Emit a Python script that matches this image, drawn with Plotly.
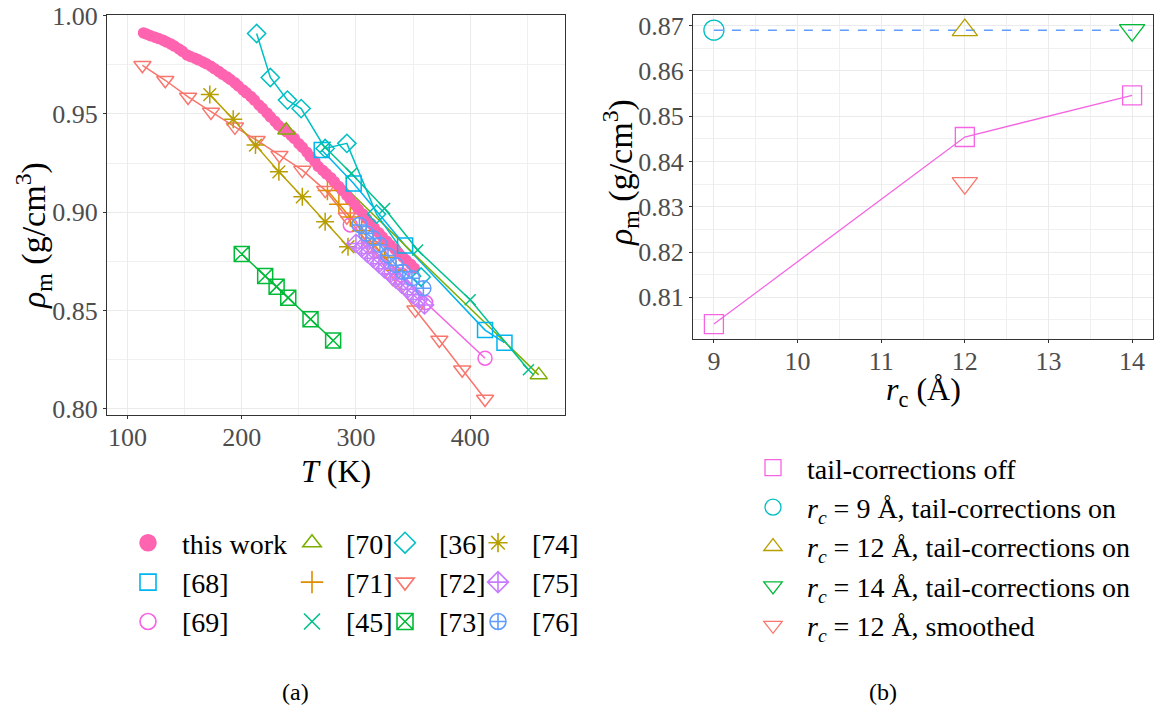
import plotly.graph_objects as go

FONT = "Liberation Serif"
W, H = 1173, 715
OFF = 8  # default page body margin of the browser

# ---------------- data: panel (a) ----------------
T_this = [114, 117, 120, 124, 127, 131, 134, 138, 141, 145, 148, 152, 155, 159, 162, 166, 169, 173,
          176, 180, 183, 187, 190, 194, 197, 201, 204, 208, 211, 215, 218, 222, 225, 229, 232, 236,
          239, 243, 246, 250, 253, 257, 260, 264, 267, 271, 274, 278, 281, 285, 288, 292, 295, 299,
          302, 306, 309, 313, 316, 320, 323, 327, 330, 334, 337, 341, 344, 348, 351]
R_this = [0.9912, 0.9905, 0.9898, 0.9890, 0.9884, 0.9875, 0.9866, 0.9855, 0.9845, 0.9830, 0.9818,
          0.9800, 0.9792, 0.9783, 0.9775, 0.9764, 0.9755, 0.9742, 0.9730, 0.9715, 0.9702, 0.9688,
          0.9675, 0.9658, 0.9642, 0.9622, 0.9607, 0.9588, 0.9570, 0.9545, 0.9528, 0.9505, 0.9485,
          0.9462, 0.9442, 0.9425, 0.9410, 0.9392, 0.9375, 0.9348, 0.9330, 0.9305, 0.9282, 0.9258,
          0.9232, 0.9212, 0.9195, 0.9175, 0.9155, 0.9130, 0.9110, 0.9085, 0.9062, 0.9038, 0.9015,
          0.8990, 0.8968, 0.8942, 0.8920, 0.8895, 0.8875, 0.8852, 0.8832, 0.8812, 0.8792, 0.8772,
          0.8755, 0.8735, 0.8715]

T68 = [270, 298, 343, 413, 430]
R68 = [0.9316, 0.9146, 0.8830, 0.8400, 0.8336]

T69 = [295, 320, 340, 361, 413]
R69 = [0.8935, 0.8800, 0.8680, 0.8540, 0.8257]

T70 = [239, 460]
R70 = [0.9417, 0.8172]

T71 = [275, 285, 295, 305, 315, 325, 335]
R71 = [0.9110, 0.9040, 0.8975, 0.8905, 0.8840, 0.8770, 0.8705]

T45 = [273, 296, 325, 354, 400, 451]
R45 = [0.9330, 0.9197, 0.9019, 0.8807, 0.8554, 0.8198]

T36 = [213, 225, 240, 252, 273, 292, 318, 357]
R36 = [0.9909, 0.9685, 0.9570, 0.9527, 0.9324, 0.9350, 0.8990, 0.8670]

T72 = [113, 133, 153, 173, 194, 213, 233, 253, 273, 292, 312, 332, 352, 373, 393, 413]
R72 = [0.9747, 0.9671, 0.9586, 0.9510, 0.9434, 0.9366, 0.9290, 0.9214, 0.9112, 0.8977,
       0.8830, 0.8665, 0.8503, 0.8350, 0.8198, 0.8049]

T73 = [200, 220.5, 230.5, 240.7, 260.2, 280]
R73 = [0.8787, 0.8675, 0.8621, 0.8565, 0.8455, 0.8347]

T74 = [172, 192.5, 212, 232.5, 253, 273, 293]
R74 = [0.9598, 0.9473, 0.9341, 0.9205, 0.9078, 0.8951, 0.8824]

T75 = [300, 305, 310, 315, 320, 325, 330, 335, 340, 345, 350, 355, 360]
R75 = [0.8841, 0.8818, 0.8790, 0.8765, 0.8738, 0.8712, 0.8687, 0.8660, 0.8634, 0.8608,
       0.8580, 0.8556, 0.8528]

T76 = [303, 309, 315, 321, 328, 335, 341, 349, 359]
R76 = [0.8935, 0.8892, 0.8867, 0.8833, 0.8780, 0.8730, 0.8697, 0.8664, 0.8613]

# ---------------- data: panel (b) ----------------
RC_OFF = [9, 12, 14]
RHO_OFF = [0.8041, 0.8454, 0.8546]
RC_9 = [9]
RHO_9 = [0.8690]
RC_12 = [12]
RHO_12 = [0.8690]
RC_14 = [14]
RHO_14 = [0.8690]
RC_12S = [12]
RHO_12S = [0.8352]
RC_REF = [9, 14]
RHO_REF = [0.8690, 0.8690]

X_TICKS_A = [100, 200, 300, 400]
Y_TICKS_A = [0.80, 0.85, 0.90, 0.95, 1.00]
X_TICKS_B = [9, 10, 11, 12, 13, 14]
Y_TICKS_B = [0.81, 0.82, 0.83, 0.84, 0.85, 0.86, 0.87]

fig = go.Figure()


def px_x(p):
    return (p - OFF) / W


def px_y(p):
    return 1 - (p - OFF) / H


SP = "&nbsp;&nbsp;"

series_a = [
    # name, T, R, color, symbol, size, lines, legend, rank
    ("this work", T_this, R_this, "#FF64B0", "circle", 10, False, "legend", 1),
    ("[68]", T68, R68, "#00B4F0", "square-open", 15, True, "legend", 2),
    ("[69]", T69, R69, "#F564E3", "circle-open", 14, True, "legend", 3),
    ("[70]", T70, R70, "#7CAE00", "triangle-up-open", 15, True, "legend2", 1),
    ("[71]", T71, R71, "#DE8C00", "cross-thin-open", 14, True, "legend2", 2),
    ("[45]", T45, R45, "#00C08B", "x-thin-open", 11, True, "legend2", 3),
    ("[36]", T36, R36, "#00BFC4", "diamond-open", 14, True, "legend3", 1),
    ("[72]", T72, R72, "#F8766D", "triangle-down-open", 15, True, "legend3", 2),
    ("[73]", T73, R73, "#00BA38", "square-x-open", 15, True, "legend3", 3),
    ("[74]", T74, R74, "#B79F00", "asterisk-open", 15, True, "legend4", 1),
    ("[75]", T75, R75, "#C77CFF", "diamond-cross-open", 14, True, "legend4", 2),
    ("[76]", T76, R76, "#619CFF", "circle-cross-open", 15, True, "legend4", 3),
]

# lines first (no legend entry), then markers
for name, tx, ry, col, sym, sz, lines, leg, rank in series_a:
    if lines:
        fig.add_trace(go.Scatter(x=tx, y=ry, mode="lines", showlegend=False, hoverinfo="skip",
                                 line=dict(color=col, width=1.5), xaxis="x", yaxis="y"))
for name, tx, ry, col, sym, sz, lines, leg, rank in series_a:
    fig.add_trace(go.Scatter(
        x=tx, y=ry, name=name, mode="markers", showlegend=False,
        marker=dict(color=col, symbol=sym, size=sz, line=dict(color=col, width=1.5)),
        xaxis="x", yaxis="y",
    ))
# legend keys (bigger symbols, as in the reference legend)
for name, tx, ry, col, sym, sz, lines, leg, rank in series_a:
    fig.add_trace(go.Scatter(
        x=[None], y=[None], name=SP + name, mode="markers",
        marker=dict(color=col, symbol=sym, size=16, line=dict(color=col, width=1.6)),
        xaxis="x", yaxis="y", legend=leg, legendrank=rank,
    ))

# panel (b)
fig.add_trace(go.Scatter(x=RC_REF, y=RHO_REF, mode="lines", showlegend=False,
                         line=dict(color="#619CFF", width=1.5, dash="dash"),
                         xaxis="x2", yaxis="y2"))
fig.add_trace(go.Scatter(x=RC_OFF, y=RHO_OFF, mode="lines", showlegend=False,
                         line=dict(color="#F564E3", width=1.3), xaxis="x2", yaxis="y2"))
series_b = [
    ("tail-corrections off", RC_OFF, RHO_OFF, "#F564E3", "square-open", 19, 1),
    ("<i>r<sub>c</sub></i> = 9 Å, tail-corrections on", RC_9, RHO_9, "#00BFC4", "circle-open", 20, 2),
    ("<i>r<sub>c</sub></i> = 12 Å, tail-corrections on", RC_12, RHO_12, "#B79F00", "triangle-up-open", 22, 3),
    ("<i>r<sub>c</sub></i> = 14 Å, tail-corrections on", RC_14, RHO_14, "#00BA38", "triangle-down-open", 22, 4),
    ("<i>r<sub>c</sub></i> = 12 Å, smoothed", RC_12S, RHO_12S, "#F8766D", "triangle-down-open", 22, 5),
]
for name, xx, yy, col, sym, sz, rank in series_b:
    fig.add_trace(go.Scatter(
        x=xx, y=yy, name=SP + name, mode="markers",
        marker=dict(color=col, symbol=sym, size=sz, line=dict(color=col, width=1.3)),
        xaxis="x2", yaxis="y2", legend="legend5", legendrank=rank,
    ))

axis_common = dict(
    showline=True, mirror=True, linecolor="#333333", linewidth=1.2,
    ticks="outside", ticklen=3, tickwidth=1.1, tickcolor="#333333",
    showgrid=True, gridcolor="#EBEBEB", gridwidth=1.2, zeroline=False,
    ticklabeloverflow="allow",
    tickfont=dict(family=FONT, size=26, color="#4D4D4D"),
)
minor_style = dict(showgrid=True, gridcolor="#F0F0F0", gridwidth=0.8, ticks="")

fig.update_layout(
    width=W, height=H,
    margin=dict(l=0, r=0, t=0, b=0, autoexpand=False),
    paper_bgcolor="white", plot_bgcolor="white",
    font=dict(family=FONT, size=26, color="black"),
    xaxis=dict(domain=[px_x(107), px_x(565)], range=[82, 483], tickvals=X_TICKS_A,
               anchor="y", minor=dict(tickvals=[150, 250, 350, 450], **minor_style),
               ticklabelstandoff=-4, **axis_common),
    yaxis=dict(domain=[px_y(415), px_y(15)], range=[0.7968, 1.0003], tickvals=Y_TICKS_A,
               tickformat=".2f", anchor="x",
               minor=dict(tickvals=[0.825, 0.875, 0.925, 0.975], **minor_style),
               **axis_common),
    xaxis2=dict(domain=[px_x(693), px_x(1153)], range=[8.75, 14.25], tickvals=X_TICKS_B,
                anchor="y2", minor=dict(tickvals=[9.5, 10.5, 11.5, 12.5, 13.5], **minor_style),
                ticklabelstandoff=-4, **axis_common),
    yaxis2=dict(domain=[px_y(339), px_y(15)], range=[0.8008, 0.87234], tickvals=Y_TICKS_B,
                tickformat=".2f", anchor="x2",
                minor=dict(tickvals=[0.805, 0.815, 0.825, 0.835, 0.845, 0.855, 0.865], **minor_style),
                **axis_common),
)

leg_common = dict(orientation="v", bgcolor="rgba(0,0,0,0)", borderwidth=0,
                  font=dict(family=FONT, size=28, color="black"),
                  tracegroupgap=0, itemsizing="trace", xanchor="left", yanchor="top")
fig.update_layout(
    legend=dict(x=px_x(128), y=px_y(518), **leg_common),
    legend2=dict(x=px_x(292), y=px_y(518), **leg_common),
    legend3=dict(x=px_x(385), y=px_y(518), **leg_common),
    legend4=dict(x=px_x(478), y=px_y(518), **leg_common),
    legend5=dict(x=px_x(753), y=px_y(443), **leg_common),
)

ytitle = "<i>ρ</i><sub>m</sub> (g/cm<sup>3</sup>)"
ann = dict(xref="paper", yref="paper", showarrow=False, xanchor="center", yanchor="middle")
fig.add_annotation(text=ytitle, x=px_x(33), y=px_y(236), textangle=-90,
                   font=dict(family=FONT, size=34, color="black"), **ann)
fig.add_annotation(text=ytitle, x=px_x(620), y=px_y(173), textangle=-90,
                   font=dict(family=FONT, size=34, color="black"), **ann)
fig.add_annotation(text="<i>T</i> (K)", x=px_x(336), y=px_y(471),
                   font=dict(family=FONT, size=32, color="black"), **ann)
fig.add_annotation(text="<i>r</i><sub>c</sub> (Å)", x=px_x(923), y=px_y(391),
                   font=dict(family=FONT, size=32, color="black"), **ann)
fig.add_annotation(text="(a)", x=px_x(295), y=px_y(692),
                   font=dict(family=FONT, size=24, color="black"), **ann)
fig.add_annotation(text="(b)", x=px_x(883), y=px_y(692),
                   font=dict(family=FONT, size=24, color="black"), **ann)

fig.write_html("out.html")
